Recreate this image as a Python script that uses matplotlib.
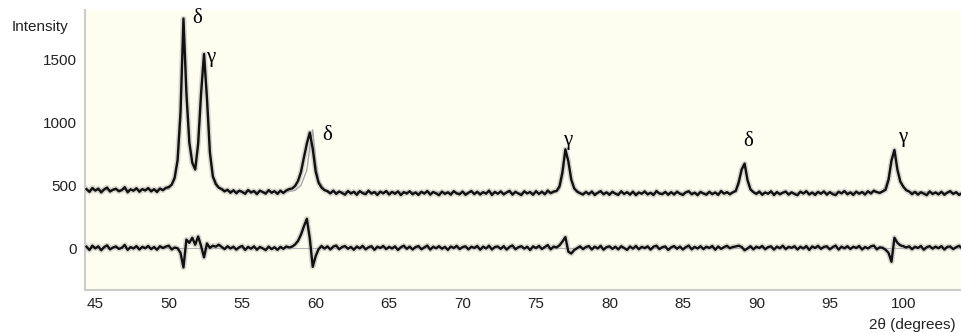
# XRD pattern: observed, calculated and difference curves
import numpy as np
import matplotlib.pyplot as plt

plt.rcParams['font.family'] = ['Liberation Sans', 'DejaVu Sans']

# 2theta grid of the measured pattern (0.2 degree steps)
two_theta = np.round(np.arange(44.4, 104.01, 0.2), 1)

observed = [
    470, 448, 479, 458, 474, 444, 468, 482, 451, 465,        # 44.4
    473, 453, 462, 485, 445, 468, 457, 477, 449, 470,        # 46.4
    459, 478, 452, 469, 447, 475, 461, 480, 486, 505,        # 48.4
    560, 700, 1080, 1820, 1230, 840, 680, 625, 830, 1230,    # 50.4
    1540, 1190, 760, 570, 510, 482, 470, 452, 465, 441,      # 52.4
    461, 437, 458, 447, 433, 463, 443, 455, 430, 458,        # 54.4
    446, 434, 462, 441, 454, 432, 458, 439, 460, 470,        # 56.4
    475, 495, 535, 605, 720, 830, 918, 790, 610, 520,        # 58.4
    482, 462, 453, 436, 458, 432, 451, 439, 426, 455,        # 60.4
    435, 449, 425, 454, 438, 430, 458, 434, 447, 424,        # 62.4
    450, 436, 455, 427, 448, 433, 452, 423, 446, 435,        # 64.4
    453, 429, 444, 424, 449, 434, 455, 426, 447, 436,        # 66.4
    422, 450, 432, 445, 426, 454, 436, 429, 451, 425,        # 68.4
    441, 455, 430, 449, 427, 446, 434, 458, 424, 448,        # 70.4
    433, 452, 428, 444, 456, 426, 449, 435, 423, 453,        # 72.4
    436, 447, 425, 454, 431, 450, 429, 459, 438, 451,        # 74.4
    455, 492, 605, 785, 690, 545, 476, 450, 437, 427,        # 76.4
    448, 430, 451, 423, 441, 454, 429, 445, 425, 449,        # 78.4
    434, 424, 453, 431, 446, 426, 450, 422, 444, 433,        # 80.4
    452, 428, 441, 423, 455, 435, 430, 448, 425, 446,        # 82.4
    427, 450, 433, 424, 445, 453, 429, 442, 422, 448,        # 84.4
    435, 426, 449, 430, 444, 424, 455, 434, 446, 429,        # 86.4
    445, 455, 525, 625, 672, 540, 468, 446, 432, 451,        # 88.4
    425, 444, 433, 453, 423, 447, 429, 442, 451, 426,        # 90.4
    445, 431, 422, 450, 435, 454, 427, 443, 424, 448,        # 92.4
    433, 452, 426, 446, 430, 423, 449, 436, 455, 429,        # 94.4
    444, 424, 450, 433, 447, 427, 453, 435, 458, 446,        # 96.4
    440, 452, 465, 545, 695, 780, 625, 530, 490, 462,        # 98.4
    451, 430, 448, 426, 445, 434, 422, 452, 431, 444,        # 100.4
    428, 449, 425, 443, 454, 432, 446, 424, 438,             # 102.4
]

# difference curve (observed - calculated), same grid
difference = [
    14, -12, 22, 1, 17, -14, 11, 25, -7, 8,                  # 44.4
    16, -3, 5, 28, -11, 11, 0, 19, -8, 13,                   # 46.4
    2, 20, -5, 12, -10, 18, 4, 15, 22, -8,                   # 48.4
    8, 2, -35, -150, 70, 45, 85, 30, 95, 20,                 # 50.4
    -70, 40, 5, 22, 14, 30, 12, -5, 18, 0,                   # 52.4
    14, -9, 10, 20, -12, 13, -2, 17, -10, 12,                # 54.4
    1, -13, 15, -5, 10, -11, 13, -3, 16, 8,                  # 56.4
    15, 32, 60, 110, 175, 235, 80, -145, -60, -5,            # 58.4
    20, -1, 17, -8, 15, 23, -6, 12, 19, -2,                  # 60.4
    12, -10, 16, 1, 21, -7, 10, 18, -11, 14,                 # 62.4
    4, 20, -5, 13, 0, 17, -12, 10, 22, -3,                   # 64.4
    15, -8, 11, 19, -6, 9, 23, -9, 14, 2,                    # 66.4
    18, -2, 13, -11, 16, 3, 21, -5, 11, 17,                  # 68.4
    -7, 14, 4, 20, -10, 15, 0, 22, -8, 12,                   # 70.4
    16, -3, 19, -9, 13, 24, -6, 10, 18, -1,                  # 72.4
    14, -12, 17, 3, 21, -4, 12, 27, -7, 15,                  # 74.4
    8, 25, 55, 90, -25, -40, -12, 2, 17, -5,                 # 76.4
    12, 19, -8, 15, 0, 21, -10, 11, 17, -3,                  # 78.4
    14, -7, 18, 4, -11, 16, -1, 20, -6, 13,                  # 80.4
    3, 17, -9, 14, 22, -5, 10, 16, -12, 9,                   # 82.4
    19, -2, 15, -8, 11, 23, -7, 13, 0, 18,                   # 84.4
    -5, 14, 4, 20, -10, 16, -3, 11, 21, 2,                   # 86.4
    12, 16, 22, 12, -14, 0, 18, -7, 14, 4,                   # 88.4
    20, -6, 11, 17, -9, 15, 2, 22, -5, 13,                   # 90.4
    5, 18, -8, 14, 0, 19, -11, 16, 4, 21,                    # 92.4
    -3, 13, 17, -7, 11, 23, -9, 15, 1, 18,                   # 94.4
    -4, 14, 4, 20, -8, 12, 0, 17, 23, -7,                    # 96.4
    9, 5, -10, -35, -105, 85, 45, 25, 18, 8,                 # 98.4
    17, -6, 14, 4, 20, -10, 11, 18, -1, 15,                  # 100.4
    2, 19, -8, 13, 16, -5, 10, 21, 1,                        # 102.4
]

# calculated (fitted) profile, smooth
calc_x = [44.4, 50.0, 50.4, 50.6, 50.8, 51.0, 51.2, 51.4, 51.6, 51.8, 52.0,
          52.2, 52.4, 52.6, 52.8, 53.0, 53.4, 54.0, 58.0, 58.6, 59.0, 59.4,
          59.6, 59.8, 60.0, 60.2, 60.6, 61.0, 76.2, 76.6, 76.8, 77.0, 77.2,
          77.4, 77.6, 78.0, 88.4, 88.8, 89.0, 89.2, 89.4, 89.6, 90.0, 98.6,
          99.0, 99.2, 99.4, 99.6, 99.8, 100.0, 100.4, 104.0]
calc_y = [462, 470, 540, 680, 1000, 1790, 1250, 830, 670, 640, 800,
          1200, 1530, 1200, 770, 580, 485, 458, 448, 460, 500, 620,
          800, 940, 690, 540, 470, 450, 440, 470, 560, 760, 700,
          560, 480, 442, 440, 500, 630, 670, 540, 462, 440, 447,
          560, 720, 770, 630, 530, 485, 450, 437]

# phase labels
peak_labels = ['δ', 'γ', 'δ', 'γ', 'δ', 'γ']
label_x = [51.94, 52.83, 60.79, 77.13, 89.45, 99.93]
label_y = [1817, 1508, 898, 851, 843, 875]

fig = plt.figure(figsize=(9.62, 3.33), dpi=100)
ax = fig.add_axes([0.0884, 0.129, 0.9116, 0.841])
ax.set_facecolor('#fefef0')

# soft grey halo under the noisy traces, then the black traces
ax.plot(two_theta, observed, color='#808080', lw=4.0, alpha=0.3, zorder=1)
ax.plot(two_theta, difference, color='#808080', lw=4.0, alpha=0.3, zorder=1)
ax.axhline(0, color='#b0b0b0', lw=0.8, zorder=1.5)
ax.plot(calc_x, calc_y, color='#a8a8a8', lw=1.0, zorder=2)
ax.plot(two_theta, observed, color='#111111', lw=1.7, zorder=3)
ax.plot(two_theta, difference, color='#111111', lw=1.7, zorder=3)

for lab, lx, ly in zip(peak_labels, label_x, label_y):
    ax.text(lx, ly, lab, fontsize=15, family=['Liberation Serif', 'DejaVu Serif'],
            ha='center', va='center')

ax.set_xlim(44.3, 104.0)
ax.set_ylim(-329, 1888)
ax.set_xticks(range(45, 101, 5))
ax.set_yticks([0, 500, 1000, 1500])
ax.tick_params(length=0, labelsize=11, colors='#222222', pad=5)
ax.tick_params(axis='y', pad=6)

for side in ['top', 'right']:
    ax.spines[side].set_visible(False)
for side in ['left', 'bottom']:
    ax.spines[side].set_color('#cccccc')
    ax.spines[side].set_linewidth(1.5)

fig.text(0.0125, 0.919, 'Intensity', fontsize=11, ha='left', va='center', color='#222222')
fig.text(0.993, 0.024, '2θ (degrees)', fontsize=11, ha='right', va='center', color='#222222')

fig.savefig('out.png', dpi=100)
